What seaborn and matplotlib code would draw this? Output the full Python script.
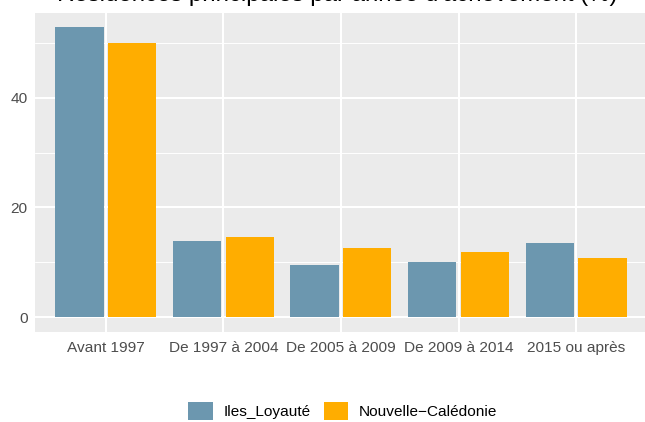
import pandas as pd
import matplotlib
matplotlib.use("Agg")
import matplotlib.pyplot as plt
import seaborn as sns
from matplotlib.ticker import MultipleLocator

# ============ Data ============
periodes = ["Avant 1997", "De 1997 à 2004", "De 2005 à 2009", "De 2009 à 2014", "2015 ou après"]
iles_loyaute = [52.8, 13.9, 9.5, 10.1, 13.5]
nouvelle_caledonie = [50.0, 14.6, 12.6, 11.9, 10.8]
zones = ["Iles_Loyauté", "Nouvelle\u2212Calédonie"]
couleurs = ["#6C97AF", "#FFAD00"]

df = pd.DataFrame({
    "periode": periodes * 2,
    "zone": [zones[0]] * len(periodes) + [zones[1]] * len(periodes),
    "valeur": iles_loyaute + nouvelle_caledonie,
})

# ============ Style ============
sns.set_theme(style="darkgrid")
plt.rcParams["font.family"] = ["Liberation Sans", "DejaVu Sans"]

W, H = 645, 422
fig = plt.figure(figsize=(W / 100, H / 100), dpi=100)
ax = fig.add_axes([35 / W, 1 - 332 / H, 1 - 35 / W, (332 - 13) / H])
ax.set_facecolor("#EBEBEB")

sns.barplot(data=df, x="periode", y="valeur", hue="zone", hue_order=zones,
            order=periodes, palette=couleurs, width=0.9, gap=0.09,
            saturation=1, linewidth=0, ax=ax, legend=True)

ax.set_xlim(-0.604, 4.587)
ax.set_ylim(-2.68, 55.43)
ax.yaxis.set_major_locator(MultipleLocator(20))
ax.yaxis.set_minor_locator(MultipleLocator(10))
ax.grid(which="major", color="white", linewidth=1.5)
ax.grid(which="minor", axis="y", color="white", linewidth=0.7)
ax.set_axisbelow(True)
for s in ax.spines.values():
    s.set_visible(False)

ax.set_xlabel("")
ax.set_ylabel("")
ax.tick_params(axis="both", which="major", length=3.3, width=0.8, color="#333333",
               labelcolor="#4D4D4D", labelsize=11.1, pad=2)
ax.tick_params(axis="y", which="minor", length=0)
ax.tick_params(axis="x", pad=3)

# legend at the bottom
handles, labels = ax.get_legend_handles_labels()
ax.get_legend().remove()
fig.legend(handles, labels, loc="center", bbox_to_anchor=(343 / W, 1 - 411 / H),
           ncol=2, frameon=False, fontsize=11.1, handlelength=1.56,
           handleheight=1.5, handletextpad=0.75, columnspacing=0.8,
           labelcolor="black")

# title (top part falls outside the figure, as in the reference)
fig.text(337 / W, 1 - 1.5 / H, "Résidences principales par année d'achèvement (%)",
         ha="center", va="baseline", fontsize=17.3, color="black")

fig.savefig("out.png", dpi=100)
